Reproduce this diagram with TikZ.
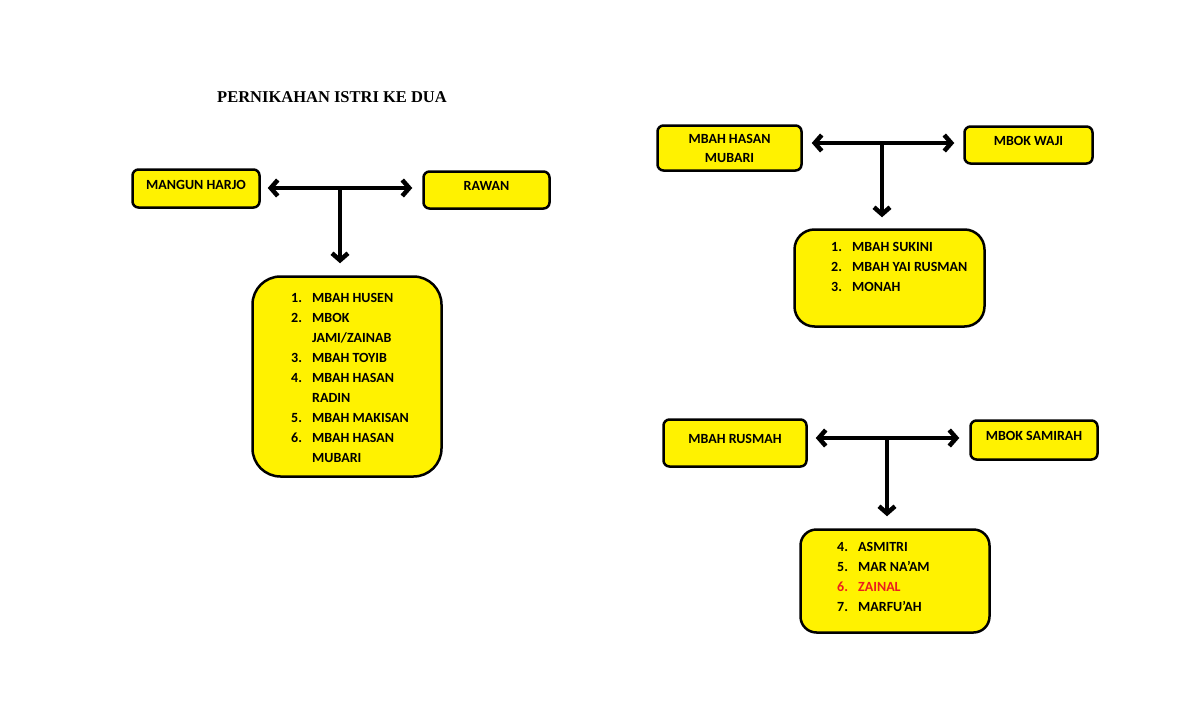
\documentclass[tikz,border=0pt]{standalone}
\usepackage{fontspec}
\setmainfont{Carlito}
\newfontfamily\judulfont{Liberation Serif}
\usetikzlibrary{calc,positioning,arrows.meta}
\definecolor{merah}{RGB}{235,30,30}
\tikzset{
    orang/.style={draw,line width=2.5pt,fill=yellow,rounded corners=6pt,
                  font=\fontsize{14}{19}\selectfont\bfseries,align=center},   % kotak nama
    satu/.style={orang,text height=9pt,text depth=8pt},                       % nama satu baris
    anak/.style={draw,line width=2.5pt,fill=yellow},                         % kotak anak
    daftar/.style={anchor=north west,inner sep=0pt,align=left,
                   font=\fontsize{14}{20}\selectfont\bfseries},
    panah/.style={line width=3.5pt,line join=round,
                  {Straight Barb[length=7pt,width=16pt,line width=4.5pt]}-{Straight Barb[length=7pt,width=16pt,line width=4.5pt]}},
    turun/.style={line width=3.5pt,-{Straight Barb[length=7pt,width=16pt,line width=4.5pt]}}
}
\newcommand{\nomor}[1]{\makebox[21pt][l]{#1}}

\begin{document}
\begin{tikzpicture}[x=1pt,y=-1pt]
                \useasboundingbox (0,0) rectangle (1200,728);
                \node[font=\judulfont\fontsize{16.5}{20}\selectfont\bfseries] (judul) at (332,97) {PERNIKAHAN ISTRI KE DUA};

                % pernikahan kiri
                \node[satu,minimum width=127,minimum height=38] (mangun) at (196,188.5) {MANGUN HARJO};
                \node[satu,minimum width=126,minimum height=37] (rawan) at (486.5,190) {RAWAN};
                \node[anak,rounded corners=28pt,minimum width=189,minimum height=200] (anak1) at (347,376.5) {};
                \coordinate (k1) at (340,188);
                \draw[panah] ([xshift=7pt]mangun.east |- k1) -- ([xshift=-10pt]rawan.west |- k1);
                \draw[turun] (k1) -- ([yshift=12pt]k1 |- anak1.north);
                \node[daftar] (daftar1) at (291,293.5) {\nomor{1.}MBAH HUSEN\\ \nomor{2.}MBOK\\ \nomor{}JAMI/ZAINAB\\
                    \nomor{3.}MBAH TOYIB\\ \nomor{4.}MBAH HASAN\\ \nomor{}RADIN\\ \nomor{5.}MBAH MAKISAN\\
                    \nomor{6.}MBAH HASAN\\ \nomor{}MUBARI};

                % pernikahan kanan atas
                \node[orang,minimum width=144,minimum height=45] (hasan) at (729.5,148) {MBAH HASAN\\MUBARI};
                \node[satu,minimum width=128,minimum height=37] (waji) at (1028.5,145) {MBOK WAJI};
                \node[anak,rounded corners=20pt,minimum width=190,minimum height=97] (anak2) at (889.5,278) {};
                \coordinate (k2) at (882,143);
                \draw[panah] ([xshift=9pt]hasan.east |- k2) -- ([xshift=-9pt]waji.west |- k2);
                \draw[turun] (k2) -- ([yshift=11pt]k2 |- anak2.north);
                \node[daftar] (daftar2) at (831,242.5) {\nomor{1.}MBAH SUKINI\\ \nomor{2.}MBAH YAI RUSMAN\\ \nomor{3.}MONAH};

                % pernikahan kanan bawah
                \node[satu,minimum width=143,minimum height=47] (rusmah) at (735,443) {MBAH RUSMAH};
                \node[satu,minimum width=127,minimum height=39] (samirah) at (1034,440) {MBOK SAMIRAH};
                \node[anak,rounded corners=16pt,minimum width=189,minimum height=103] (anak3) at (895,581) {};
                \coordinate (k3) at (887,438);
                \draw[panah] ([xshift=8pt]rusmah.east |- k3) -- ([xshift=-10pt]samirah.west |- k3);
                \draw[turun] (k3) -- ([yshift=12pt]k3 |- anak3.north);
                \node[daftar] (daftar3) at (837,542.5) {\nomor{4.}ASMITRI\\ \nomor{5.}MAR NA'AM\\
                    {\color{merah}\nomor{6.}ZAINAL}\\ \nomor{7.}MARFU'AH};

            \end{tikzpicture}
\end{document}
